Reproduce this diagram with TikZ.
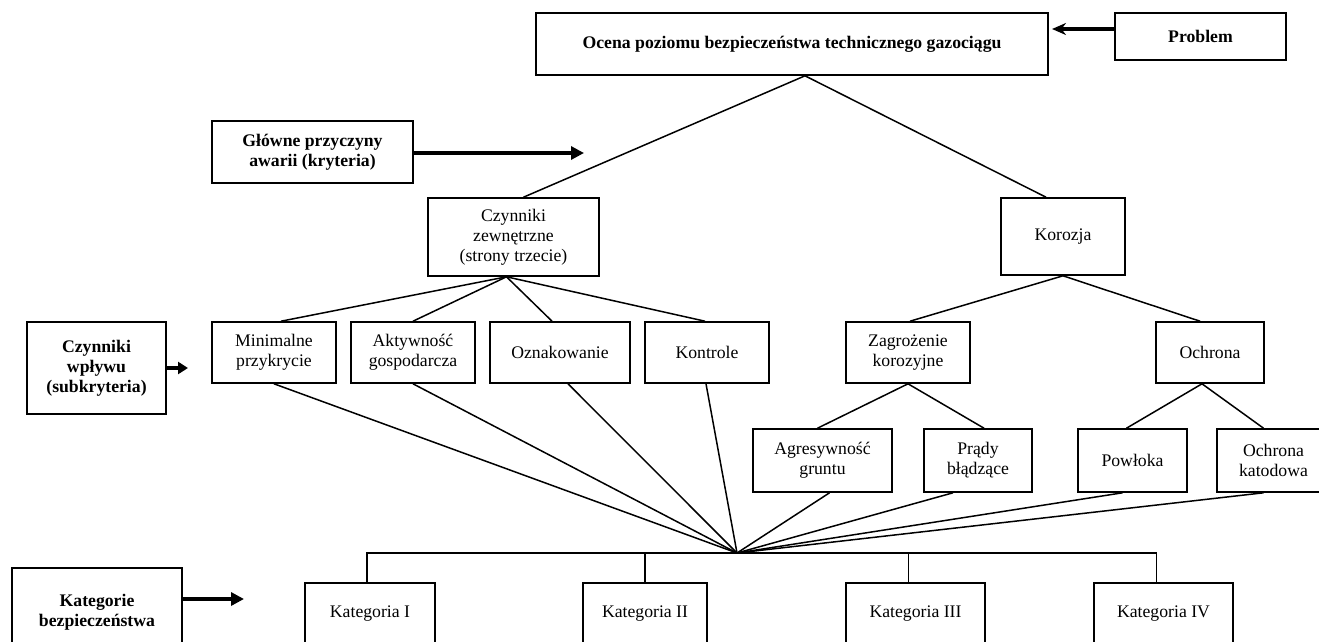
\documentclass[tikz,border=0pt]{standalone}
\usepackage{fontspec}
\setmainfont{Liberation Serif}
\usetikzlibrary{arrows.meta}
\begin{document}
\begin{tikzpicture}[x=1pt,y=-1pt,
  box/.style={draw, line width=1.6pt, align=center, inner sep=0pt, font=\fontsize{17.7}{20}\selectfont},
  bbox/.style={box, font=\fontsize{17.7}{20}\selectfont\bfseries},
  conn/.style={line width=1.5pt},
  bigarrow/.style={line width=3.2pt, -{Triangle[length=13pt,width=13pt]}},
  smallarrow/.style={line width=3.2pt, -{Stealth[length=14pt,width=12pt]}}]
\useasboundingbox (0,0) rectangle (1319,642);
% top level
\node[bbox, minimum width=512, minimum height=62] (top) at (792,44) {Ocena poziomu bezpieczeństwa technicznego gazociągu};
\node[bbox, minimum width=171, minimum height=47] (problem) at (1200.5,36.5) {Problem};
\node[bbox, minimum width=201, minimum height=62] (glowne) at (312.5,152) {Główne przyczyny\\awarii (kryteria)};
\node[bbox, minimum width=139, minimum height=92] (wplyw) at (96.5,368) {Czynniki\\wpływu\\(subkryteria)};
\node[bbox, minimum width=170, minimum height=88] (katbez) at (97,612) {Kategorie\\bezpieczeństwa};
% criteria
\node[box, minimum width=171, minimum height=78] (czz) at (513.5,237) {Czynniki\\zewnętrzne\\(strony trzecie)};
\node[box, minimum width=124, minimum height=77] (kor) at (1063,236.5) {Korozja};
% subcriteria
\node[box, minimum width=124, minimum height=61] (min) at (274,352.5) {Minimalne\\przykrycie};
\node[box, minimum width=124, minimum height=61] (akt) at (413,352.5) {Aktywność\\gospodarcza};
\node[box, minimum width=140, minimum height=61] (ozn) at (560,352.5) {Oznakowanie};
\node[box, minimum width=124, minimum height=61] (kon) at (707,352.5) {Kontrole};
\node[box, minimum width=124, minimum height=61] (zag) at (908,352.5) {Zagrożenie\\korozyjne};
\node[box, minimum width=108, minimum height=61] (och) at (1210,352.5) {Ochrona};
\node[box, minimum width=139, minimum height=63] (agr) at (822.5,460.5) {Agresywność\\gruntu};
\node[box, minimum width=108, minimum height=63] (pra) at (978,460.5) {Prądy\\błądzące};
\node[box, minimum width=109, minimum height=63] (pow) at (1132.5,460.5) {Powłoka};
\node[box, minimum width=113, minimum height=63] (kat) at (1273.5,460.5) {Ochrona\\katodowa};
% categories
\node[box, minimum width=130, minimum height=62] (k1) at (370,614) {Kategoria I};
\node[box, minimum width=124, minimum height=62] (k2) at (645,614) {Kategoria II};
\node[box, minimum width=139, minimum height=62] (k3) at (915.5,614) {Kategoria III};
\node[box, minimum width=139, minimum height=62] (k4) at (1163.5,614) {Kategoria IV};
\coordinate (hub) at (737,553);
% arrows
\coordinate (ptip) at (1052,29);
\draw[smallarrow] (problem.west |- ptip) -- (ptip);
\coordinate (garrow) at (584,153);
\draw[bigarrow] (glowne.east |- garrow) -- (garrow);
\coordinate (warrow) at (188,368);
\draw[line width=3.2pt, -{Triangle[length=10pt,width=12pt]}] (wplyw.east) -- (warrow);
\coordinate (karrow) at (244,599);
\draw[bigarrow] (katbez.east |- karrow) -- (karrow);
% tree connectors
\draw[conn] ([xshift=13]top.south) -- ([xshift=10]czz.north);
\draw[conn] ([xshift=13]top.south) -- ([xshift=-17]kor.north);
\draw[conn] ([xshift=-7]czz.south) -- ([xshift=7]min.north);
\draw[conn] ([xshift=-7]czz.south) -- (akt.north);
\draw[conn] ([xshift=-7]czz.south) -- ([xshift=-8]ozn.north);
\draw[conn] ([xshift=-7]czz.south) -- ([xshift=-2]kon.north);
\draw[conn] (kor.south) -- ([xshift=2]zag.north);
\draw[conn] (kor.south) -- ([xshift=-10]och.north);
\draw[conn] ([xshift=-8]och.south) -- ([xshift=-6]pow.north);
\draw[conn] ([xshift=-8]och.south) -- ([xshift=-10]kat.north);
\draw[conn] (zag.south) -- ([xshift=-5]agr.north);
\draw[conn] (zag.south) -- ([xshift=6]pra.north);
% to hub
\draw[conn] (min.south) -- (hub);
\draw[conn] (akt.south) -- (hub);
\draw[conn] ([xshift=8]ozn.south) -- (hub);
\draw[conn] ([xshift=-1]kon.south) -- (hub);
\draw[conn] ([xshift=7]agr.south) -- (hub);
\draw[conn] ([xshift=-25]pra.south) -- (hub);
\draw[conn] ([xshift=-10]pow.south) -- (hub);
\draw[conn] ([xshift=-10]kat.south) -- (hub);
% category bar
\draw[conn] ([xshift=-3]k1.north) |- (hub) -| ([xshift=-7]k4.north);
\draw[conn] (k2.north) |- (hub);
\draw[conn] ([xshift=-7]k3.north) |- (hub);
\end{tikzpicture}
\end{document}
